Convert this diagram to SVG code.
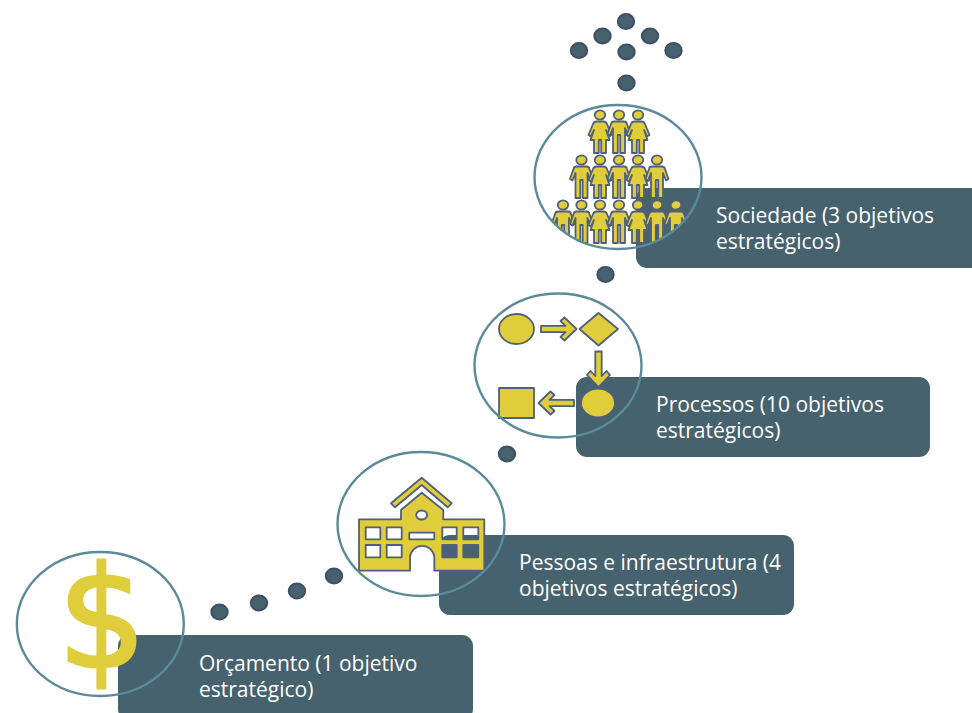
<svg xmlns="http://www.w3.org/2000/svg" width="972" height="713" viewBox="0 0 972 713">
<style>
.panel{fill:#45626e}
.ring{fill:none;stroke:#5b8a9b;stroke-width:2.4}
.label{font-family:"Open Sans","Liberation Sans",sans-serif;font-size:21px;fill:#fff}
.icon{fill:#dfcd3c;stroke:#4f5f7c;stroke-width:1.8;stroke-linejoin:round}
.dot{fill:#45626e;stroke:#3f4f66;stroke-width:2}
.dollar{font-family:"DejaVu Sans",sans-serif;font-size:140px;fill:#dfcd3c;stroke:#dfcd3c;stroke-width:3}
</style>
<defs>
<path id="man" d="M-5,6.500H5Q7.500,6.500 8,9L11.500,19L9,20.500L6,13V38H1.200V20H-1.200V38H-6V13L-9,20.500L-11.500,19L-8,9Q-7.500,6.500 -5,6.500Z"/>
<path id="woman" d="M-3.500,6.500H3.500Q6,6.500 7,9L11.500,20L9,21.500L6,15L9.500,25H6V38H1.200V25H-1.200V38H-6V25H-9.500L-6,15L-9,21.500L-11.500,20L-7,9Q-6,6.500 -3.500,6.500Z"/>
<ellipse id="head" cx="0" cy="0" rx="5.200" ry="4.600"/>
<path id="arrow" d="M0,-3.200H24.500L19.500,-8L23.500,-11.500L35.500,0L23.500,11.500L19.500,8L24.500,3.200H0Z"/>
<clipPath id="soc"><ellipse cx="618" cy="177" rx="83" ry="72"/></clipPath>
</defs>
<g id="connectors">
<ellipse class="dot" cx="626" cy="21.500" rx="8.200" ry="7.500"/>
<ellipse class="dot" cx="602.500" cy="36" rx="8.200" ry="7.500"/>
<ellipse class="dot" cx="650" cy="36" rx="8.200" ry="7.500"/>
<ellipse class="dot" cx="579" cy="50.500" rx="8.200" ry="7.500"/>
<ellipse class="dot" cx="626.500" cy="52" rx="8.200" ry="7.500"/>
<ellipse class="dot" cx="673.500" cy="50.500" rx="8.200" ry="7.500"/>
<ellipse class="dot" cx="626.500" cy="83" rx="8.200" ry="7.500"/>
<ellipse class="dot" cx="605.500" cy="274.500" rx="8.200" ry="7.500"/>
<ellipse class="dot" cx="507" cy="454" rx="8.200" ry="7.500"/>
<ellipse class="dot" cx="219.500" cy="612" rx="8.200" ry="7.500"/>
<ellipse class="dot" cx="259" cy="603" rx="8.200" ry="7.500"/>
<ellipse class="dot" cx="297" cy="591" rx="8.200" ry="7.500"/>
<ellipse class="dot" cx="334" cy="576" rx="8.200" ry="7.500"/>
</g>
<g id="node-orcamento">
<rect class="panel" x="118" y="635" width="355" height="85" rx="11"/>
<text class="dollar" x="102" y="667" text-anchor="middle">$</text>
<ellipse class="ring" cx="100.300" cy="624" rx="83.500" ry="72"/>
<text class="label" x="199" y="671">Orçamento (1 objetivo</text>
<text class="label" x="199" y="697">estratégico)</text>
</g>
<g id="node-pessoas">
<rect class="panel" x="439" y="535" width="355" height="80" rx="11"/>
<path class="icon" fill-rule="evenodd" d="M359,519.300H401V510L421.700,492.700L443.300,510V519.300H484.300V570.700H434.300V557A12.200,12.200 0 0 0 410,557V570.700H359ZM365.700,527.300V539.300H380.300V527.300ZM386.700,527.300V539.300H401.700V527.300ZM365.700,545V557.300H380.300V545ZM386.700,545V557.300H401.700V545ZM442.300,527.300V539.300H456.700V527.300ZM463.300,527.300V539.300H478.300V527.300ZM442.300,545V557.300H456.700V545ZM463.300,545V557.300H478.300V545ZM409.300,532.700V539.300H434.300V532.700ZM416.200,515A5.500,4.500 0 0 0 427.200,515A5.500,4.500 0 0 0 416.200,515Z"/>
<path class="icon" d="M421.700,477.700L451.700,503.300L447.700,507.300L421.700,485L395,507.300L391,503.300Z"/>
<ellipse class="ring" cx="421" cy="524" rx="83.500" ry="72"/>
<text class="label" x="519" y="570">Pessoas e infraestrutura (4</text>
<text class="label" x="519" y="596">objetivos estratégicos)</text>
</g>
<g id="node-processos">
<rect class="panel" x="576" y="377" width="354" height="80" rx="11"/>
<g class="icon">
<ellipse cx="516.500" cy="329" rx="17.500" ry="15"/>
<path d="M598.500,313L618,329L598.500,345.500L579.500,329Z"/>
<ellipse cx="598" cy="403" rx="17" ry="14.500"/>
<rect x="499" y="388" width="35" height="30"/>
<use href="#arrow" transform="translate(541,329)"/>
<use href="#arrow" transform="translate(598.500,351.500) rotate(90)"/>
<use href="#arrow" transform="translate(574,403) rotate(180)"/>
</g>
<ellipse class="ring" cx="558" cy="365.500" rx="83.500" ry="72"/>
<text class="label" x="656" y="412">Processos (10 objetivos</text>
<text class="label" x="656" y="438">estratégicos)</text>
</g>
<g id="node-sociedade">
<rect class="panel" x="636" y="188" width="346" height="80" rx="11"/>
<g class="icon" clip-path="url(#soc)">
<g transform="translate(600,115)"><use href="#head"/><use href="#woman"/></g>
<g transform="translate(619,115)"><use href="#head"/><use href="#man"/></g>
<g transform="translate(638,115)"><use href="#head"/><use href="#woman"/></g>
<g transform="translate(581.500,160)"><use href="#head"/><use href="#man"/></g>
<g transform="translate(600,160)"><use href="#head"/><use href="#woman"/></g>
<g transform="translate(619,160)"><use href="#head"/><use href="#man"/></g>
<g transform="translate(638,160)"><use href="#head"/><use href="#woman"/></g>
<g transform="translate(657,160)"><use href="#head"/><use href="#man"/></g>
<g transform="translate(563,205)"><use href="#head"/><use href="#man"/></g>
<g transform="translate(581.500,205)"><use href="#head"/><use href="#man"/></g>
<g transform="translate(600,205)"><use href="#head"/><use href="#woman"/></g>
<g transform="translate(619,205)"><use href="#head"/><use href="#man"/></g>
<g transform="translate(638,205)"><use href="#head"/><use href="#woman"/></g>
<g transform="translate(657,205)"><use href="#head"/><use href="#man"/></g>
<g transform="translate(676,205)"><use href="#head"/><use href="#man"/></g>
</g>
<ellipse class="ring" cx="618" cy="177" rx="83.500" ry="72"/>
<text class="label" x="716" y="223">Sociedade (3 objetivos</text>
<text class="label" x="716" y="249">estratégicos)</text>
</g>
</svg>
